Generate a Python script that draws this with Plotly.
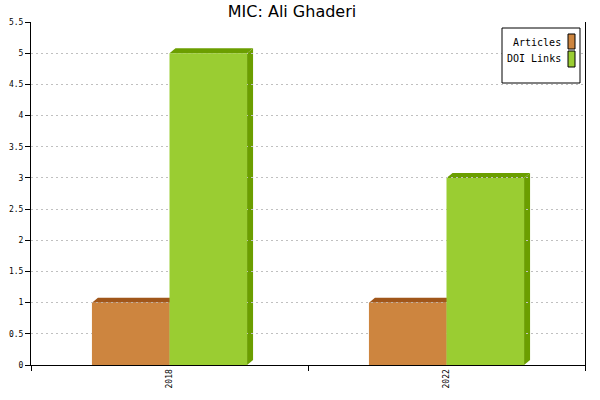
import plotly.graph_objects as go

categories = ["2018", "2022"]
articles = [1, 1]
doi_links = [5, 3]
series_names = ["Articles", "DOI Links"]
front_colors = ["#CD853F", "#9ACD32"]
depth_colors = ["#A0561A", "#6B9E00"]
y_ticks = [0, 0.5, 1, 1.5, 2, 2.5, 3, 3.5, 4, 4.5, 5, 5.5]

W, H = 600, 400
L, R, T, B = 31, 15, 22, 35
plot_w = W - L - R
plot_h = H - T - B
y_max = 5.5
bargap = 0.44
bar_w = (1 - bargap) / 2

fig = go.Figure()
series = [articles, doi_links]
for k, vals in enumerate(series):
    fig.add_trace(go.Bar(
        x=categories, y=vals, name=series_names[k],
        marker=dict(color=front_colors[k], line=dict(width=0)),
        hoverinfo="x+y+name",
    ))

# 3D depth faces
dx = 6 / (plot_w / len(categories))
dy = 5 / (plot_h / y_max)
shapes = []
for k, vals in enumerate(series):
    for i, v in enumerate(vals):
        x0 = i - bar_w + k * bar_w
        x1 = x0 + bar_w
        top = f"M {x0},{v} L {x0+dx},{v+dy} L {x1+dx},{v+dy} L {x1},{v} Z"
        side = f"M {x1},{v} L {x1+dx},{v+dy} L {x1+dx},{dy} L {x1},0 Z"
        for p in (top, side):
            shapes.append(dict(type="path", path=p, xref="x", yref="y",
                               fillcolor=depth_colors[k], line=dict(width=0),
                               layer="below"))

# custom legend (label left, swatch right)
def px_x(p):
    return (p - L) / plot_w

def px_y(p):
    return (H - B - p) / plot_h

shapes.append(dict(type="rect", xref="paper", yref="paper",
                   x0=px_x(502), x1=px_x(580), y0=px_y(83), y1=px_y(28),
                   line=dict(color="black", width=1), fillcolor="white"))
annotations = []
rows = [(34, 49, 43), (51, 67, 59)]
for k, name in enumerate(series_names):
    ys0, ys1, yc = rows[k]
    shapes.append(dict(type="rect", xref="paper", yref="paper",
                       x0=px_x(568), x1=px_x(575), y0=px_y(ys1), y1=px_y(ys0),
                       line=dict(color="black", width=1),
                       fillcolor=front_colors[k]))
    annotations.append(dict(text=name, xref="paper", yref="paper",
                            x=px_x(563), y=px_y(yc), xanchor="right",
                            yanchor="middle", showarrow=False,
                            font=dict(family="DejaVu Sans Mono", size=10,
                                      color="black")))

fig.update_layout(
    width=W, height=H,
    margin=dict(l=L, r=R, t=T, b=B, autoexpand=False),
    paper_bgcolor="white", plot_bgcolor="white",
    barmode="group", bargap=bargap, bargroupgap=0,
    showlegend=False,
    title=dict(text="MIC: Ali Ghaderi", x=292 / W, xanchor="center",
               y=1 - 11 / H, yanchor="middle",
               font=dict(family="DejaVu Sans", size=16, color="black")),
    shapes=shapes, annotations=annotations,
    xaxis=dict(type="category", tickson="boundaries", ticks="outside",
               ticklen=5, tickcolor="black", showline=True,
               linecolor="black", linewidth=1, showgrid=False,
               tickangle=-90, automargin=False,
               tickfont=dict(family="DejaVu Sans Mono", size=8,
                             color="black")),
    yaxis=dict(range=[0, y_max], tickvals=y_ticks,
               ticktext=[f"{t:g}" for t in y_ticks],
               ticks="outside", ticklen=5, tickcolor="black",
               showline=True, linecolor="black", linewidth=1, mirror=True,
               zeroline=False, showgrid=True, gridcolor="#c0c0c0",
               griddash="2px,3px", gridwidth=1, automargin=False,
               tickfont=dict(family="DejaVu Sans Mono", size=8,
                             color="black")),
)

fig.write_html("out.html",
               config={"displayModeBar": False},
               post_script="document.body.style.margin='0';")
